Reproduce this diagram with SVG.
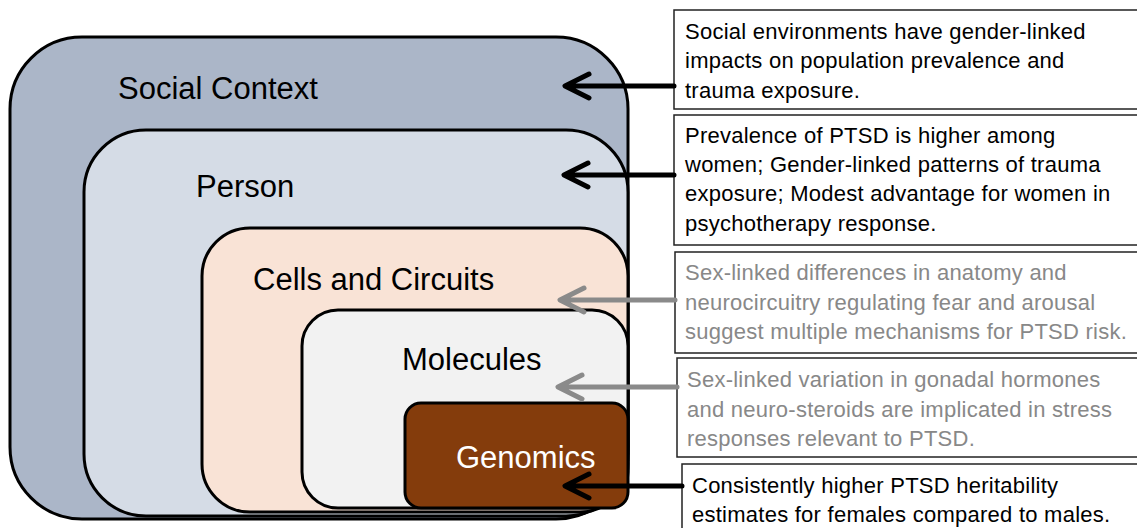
<svg xmlns="http://www.w3.org/2000/svg" width="1137" height="528" viewBox="0 0 1137 528">
<style>
.lvl{stroke:#000;stroke-width:3}
.lbl{font-family:"Liberation Sans",Arial,sans-serif;font-size:31px;fill:#000}
.note{fill:#fff;stroke:#222;stroke-width:1.5}
.nt{font-family:"Liberation Sans",Arial,sans-serif;font-size:22px;letter-spacing:0.25px;fill:#000}
.gray{fill:#888}
.ab{stroke:#000;stroke-width:5;fill:none;stroke-linecap:round;stroke-linejoin:round}
.ag{stroke:#8a8a8a;stroke-width:5;fill:none;stroke-linecap:round;stroke-linejoin:round}
</style>
<rect width="1137" height="528" fill="#fff"/>
<g id="social-context">
<rect class="lvl" x="10" y="37" width="618" height="482" rx="72" fill="#abb6c8"/>
<text class="lbl" x="118" y="99">Social Context</text>
</g>
<g id="person">
<rect class="lvl" x="84" y="130" width="544" height="386" rx="62" fill="#d5dce6"/>
<text class="lbl" x="196" y="197">Person</text>
</g>
<g id="cells-circuits">
<rect class="lvl" x="202" y="228" width="426" height="284" rx="48" fill="#f9e3d6"/>
<text class="lbl" x="253" y="290">Cells and Circuits</text>
</g>
<g id="molecules">
<rect class="lvl" x="302" y="310" width="326" height="198" rx="36" fill="#f2f2f2"/>
<text class="lbl" x="402" y="370">Molecules</text>
</g>
<g id="genomics">
<rect class="lvl" x="405" y="403" width="223" height="105" rx="16" fill="#843c0c"/>
<text class="lbl" x="456" y="468" fill="#fff" style="fill:#fff">Genomics</text>
</g>
<g id="note-social">
<rect class="note" x="674" y="10" width="470" height="99"/>
<text class="nt"><tspan x="685" y="39">Social environments have gender-linked</tspan><tspan x="685" y="68">impacts on population prevalence and</tspan><tspan x="685" y="98">trauma exposure.</tspan></text>
</g>
<g id="note-person">
<rect class="note" x="674" y="115" width="470" height="130"/>
<text class="nt"><tspan x="685" y="143">Prevalence of PTSD is higher among</tspan><tspan x="685" y="172">women; Gender-linked patterns of trauma</tspan><tspan x="685" y="201">exposure; Modest advantage for women in</tspan><tspan x="685" y="231">psychotherapy response.</tspan></text>
</g>
<g id="note-cells">
<rect class="note" x="675" y="252" width="469" height="101"/>
<text class="nt gray"><tspan x="685" y="280">Sex-linked differences in anatomy and</tspan><tspan x="685" y="310">neurocircuitry regulating fear and arousal</tspan><tspan x="685" y="339">suggest multiple mechanisms for PTSD risk.</tspan></text>
</g>
<g id="note-molecules">
<rect class="note" x="677" y="358" width="467" height="99"/>
<text class="nt gray"><tspan x="687" y="387">Sex-linked variation in gonadal hormones</tspan><tspan x="687" y="417">and neuro-steroids are implicated in stress</tspan><tspan x="687" y="446">responses relevant to PTSD.</tspan></text>
</g>
<g id="note-genomics">
<rect class="note" x="682" y="464" width="462" height="80"/>
<text class="nt"><tspan x="692" y="493">Consistently higher PTSD heritability</tspan><tspan x="692" y="522">estimates for females compared to males.</tspan></text>
</g>
<g id="connectors">
<path class="ab" d="M674 86H566M589 74L565 86L589 98"/>
<path class="ab" d="M674 175H565M588 163L564 175L588 187"/>
<path class="ag" d="M675 300H561M584 288L560 300L584 312"/>
<path class="ag" d="M677 387H559M582 375L558 387L582 399"/>
<path class="ab" d="M682 486H566M589 474L565 486L589 498"/>
</g>
</svg>
